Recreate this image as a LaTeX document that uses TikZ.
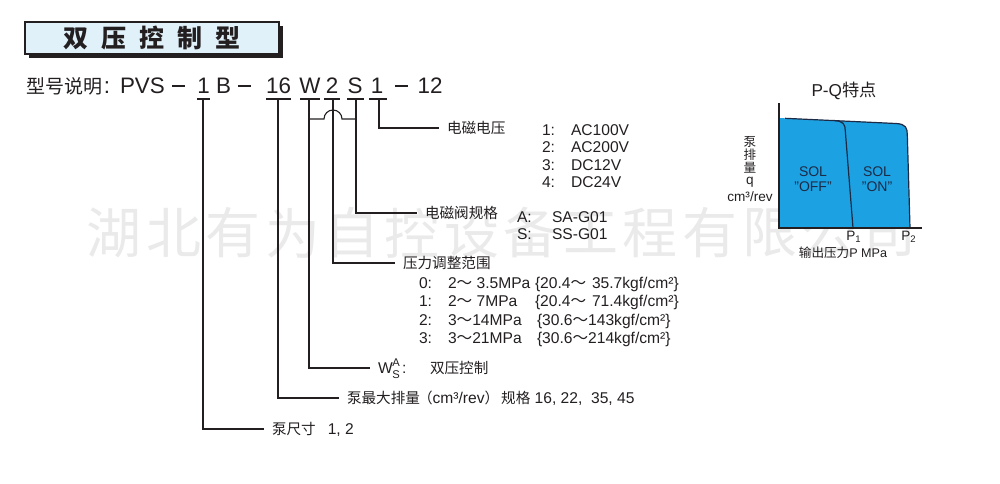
\documentclass[tikz,border=0pt]{standalone}
\usepackage{fontspec}
\setmainfont{Liberation Sans}
\newfontfamily\cjk{Noto Sans CJK SC}
\newcommand\latn[1]{{\rmfamily #1}}
\newcommand\latnb[1]{{\rmfamily\fontsize{7.8}{9}\selectfont #1}}
\newcommand\bigdash{\rule[3.1pt]{6.6pt}{0.85pt}}
\definecolor{ink}{HTML}{231F20}
\definecolor{titlebg}{HTML}{E1F1FA}
\definecolor{qblue}{RGB}{28,161,226}
\definecolor{qline}{HTML}{1C2A45}
\definecolor{wmgray}{HTML}{EAEAEA}
\begin{document}
\begin{tikzpicture}[x=0.5pt,y=-0.5pt,
  every node/.style={inner sep=0pt, outer sep=0pt, text=ink},
  lat/.style={font=\fontsize{7.8}{9}\selectfont},
  cn/.style={font=\cjk\fontsize{7.3}{9}\selectfont},
  big/.style={font=\fontsize{11.2}{13}\selectfont},
  bigcn/.style={font=\cjk\fontsize{9.5}{12}\selectfont},
  tiny/.style={font=\fontsize{5.6}{6}\selectfont},
  ul/.style={draw=ink, line width=0.55pt},
  conn/.style={draw=ink, line width=0.55pt, shorten >=4pt},
  gl/.style={font=\fontsize{6.8}{8}\selectfont},
  gcn/.style={font=\cjk\fontsize{6.3}{8}\selectfont},
  sol/.style={font=\fontsize{7}{8}\selectfont, text=qline},
  wm/.style={font=\cjk\fontsize{27.5}{30}\selectfont, text=wmgray},
]
\useasboundingbox (0,0) rectangle (1000,483);

% watermark
\foreach \c [count=\i from 0] in {湖,北,有,为,自,控,设,备,工,程,有,限,公,司}
  \node[wm] (wm\i) at ({114+\i*59.6},233) {\c};

% title
\fill[ink] (29,26) rectangle (283,58);
\node[draw=ink, fill=titlebg, line width=0.6pt, minimum width=127pt, minimum height=16pt,
      font=\cjk\bfseries\fontsize{12.5}{14}\selectfont] (title) at (152,38)
      {双\hspace{6.4pt}压\hspace{6.4pt}控\hspace{6.4pt}制\hspace{6.4pt}型};

% model line
\node[bigcn, anchor=base west] (xh) at (26,93) {型号说明};
\node[big, anchor=base] (colon) at (107,93) {:};
\node[big, anchor=base west] (pvs) at (120,93) {PVS};
\node[big, anchor=base] (d1) at (178.5,93) {\bigdash};
\node[big, anchor=base] (t1) at (203.5,93) {1};
\node[big, anchor=base] (tB) at (223.5,93) {B};
\node[big, anchor=base] (d2) at (244.5,93) {\bigdash};
\node[big, anchor=base] (t16) at (278.5,93) {16};
\node[big, anchor=base] (tW) at (310,93) {W};
\node[big, anchor=base] (t2) at (332,93) {2};
\node[big, anchor=base] (tS) at (355,93) {S};
\node[big, anchor=base] (t1b) at (377,93) {1};
\node[big, anchor=base] (d3) at (401.5,93) {\bigdash};
\node[big, anchor=base] (t12) at (430,93) {12};

% underlines
\draw[ul] (197,99) -- (210,99);
\draw[ul] (266,99) -- (291,99);
\draw[ul] (300,99) -- (320,99);
\draw[ul] (324,99) -- (340,99);
\draw[ul] (347,99) -- (364,99);
\draw[ul] (369,99) -- (387,99);

\coordinate (c1) at (203,99);
\coordinate (c16) at (278,99);
\coordinate (cW) at (309,99);
\coordinate (c2) at (333,99);
\coordinate (cS) at (356,99);
\coordinate (cV) at (379,99);
\coordinate (bW) at (309,119);
\coordinate (bS) at (356,119);

% labels
\node[cn, anchor=west] (lV) at (447,128) {电磁电压};
\node[cn, anchor=west] (lS) at (425,213) {电磁阀规格};
\node[cn, anchor=west] (lP) at (403,263) {压力调整范围};
\node[lat, anchor=west] (lW) at (378,368) {W};
\node[cn, anchor=west] (lQ) at (347,398)
  {泵最大排量\hspace{-1pt}（\latnb{cm³/rev}）\hspace{1pt}规格\latnb{ 16, 22,\ \ 35, 45}};
\node[cn, anchor=west] (lZ) at (272,429) {泵尺寸\hspace{6pt}\latnb{1, 2}};

% connectors
\draw[conn] (cV) |- (lV.west);
\draw[conn] (cS) |- (lS.west);
\draw[conn] (c2) |- (lP.west);
\draw[conn] (cW) |- (lW.west);
\draw[conn] (c16) |- (lQ.west);
\draw[conn] (c1) |- (lZ.west);
\draw[ul] (bW) -- (324,119) arc[start angle=180, end angle=360, radius=9] -- (bS);

% voltage options
\node[lat, anchor=base west] (v1n) at (542,135) {1:};
\node[lat, anchor=base west] (v1t) at (571,135) {AC100V};
\node[lat, anchor=base west] (v2n) at (542,152.5) {2:};
\node[lat, anchor=base west] (v2t) at (571,152.5) {AC200V};
\node[lat, anchor=base west] (v3n) at (542,170) {3:};
\node[lat, anchor=base west] (v3t) at (571,170) {DC12V};
\node[lat, anchor=base west] (v4n) at (542,187.5) {4:};
\node[lat, anchor=base west] (v4t) at (571,187.5) {DC24V};

% valve options
\node[lat, anchor=base west] (sAn) at (517,222) {A:};
\node[lat, anchor=base west] (sAt) at (552,222) {SA-G01};
\node[lat, anchor=base west] (sSn) at (517,239) {S:};
\node[lat, anchor=base west] (sSt) at (552,239) {SS-G01};

% pressure options
\node[lat, anchor=base west] (p0n) at (419,288) {0:};
\node[lat, anchor=base west] (p0r) at (448,288) {2{\cjk ～}\ 3.5MPa};
\node[lat, anchor=base west] (p0k) at (535,288) {\{20.4{\cjk ～}};
\node[lat, anchor=base west] (p0v) at (592,288) {35.7kgf/cm²\}};
\node[lat, anchor=base west] (p1n) at (419,306.5) {1:};
\node[lat, anchor=base west] (p1r) at (448,306.5) {2{\cjk ～}\ 7MPa};
\node[lat, anchor=base west] (p1k) at (535,306.5) {\{20.4{\cjk ～}};
\node[lat, anchor=base west] (p1v) at (592,306.5) {71.4kgf/cm²\}};
\node[lat, anchor=base west] (p2n) at (419,325) {2:};
\node[lat, anchor=base west] (p2r) at (448,325) {3{\cjk ～}14MPa};
\node[lat, anchor=base west] (p2k) at (537,325) {\{30.6{\cjk ～}143kgf/cm²\}};
\node[lat, anchor=base west] (p3n) at (419,343) {3:};
\node[lat, anchor=base west] (p3r) at (448,343) {3{\cjk ～}21MPa};
\node[lat, anchor=base west] (p3k) at (537,343) {\{30.6{\cjk ～}214kgf/cm²\}};

% W A/S
\node[tiny, anchor=base] (lWa) at (396,366) {A};
\node[tiny, anchor=base] (lWs) at (396,378.5) {S};
\node[lat, anchor=base west] (lWc) at (402,373.5) {:};
\node[cn, anchor=west] (lWt) at (430,368) {双压控制};

% P-Q chart
\node[font=\fontsize{8.6}{10}\selectfont] (pqt) at (844,91) {P-Q{\cjk 特点}};
\fill[qblue] (779,228) -- (779,118) -- (896,123.5) .. controls (906,124) and (907.3,128) .. (907.3,135) -- (910,228) -- cycle;
\draw[qline, line width=0.6pt] (785,118.3) -- (896,123.5) .. controls (906,124) and (907.3,128) .. (907.3,135) -- (910,228);
\draw[qline, line width=0.6pt] (834,120.5) .. controls (843,121) and (845.3,124) .. (845.3,131) -- (853,228);
\draw[ink, line width=0.55pt] (779,103) -- (779,228) -- (922,228);
\node[sol] (off1) at (813,172) {SOL};
\node[sol] (off2) at (813,187) {"OFF"};
\node[sol] (on1) at (877,172) {SOL};
\node[sol] (on2) at (877,187) {"ON"};
\node[gcn] (ya) at (750,142) {泵};
\node[gcn] (yb) at (750,155) {排};
\node[gcn] (yc) at (750,168) {量};
\node[gl] (yd) at (750,182) {q};
\node[gl] (ye) at (750,197) {cm³/rev};
\node[gl] (p1) at (854,237) {P\textsubscript{1}};
\node[gl] (p2) at (909,237) {P\textsubscript{2}};
\node[gcn] (xl) at (843,253) {输出压力\latn{P MPa}};
\end{tikzpicture}
\end{document}
